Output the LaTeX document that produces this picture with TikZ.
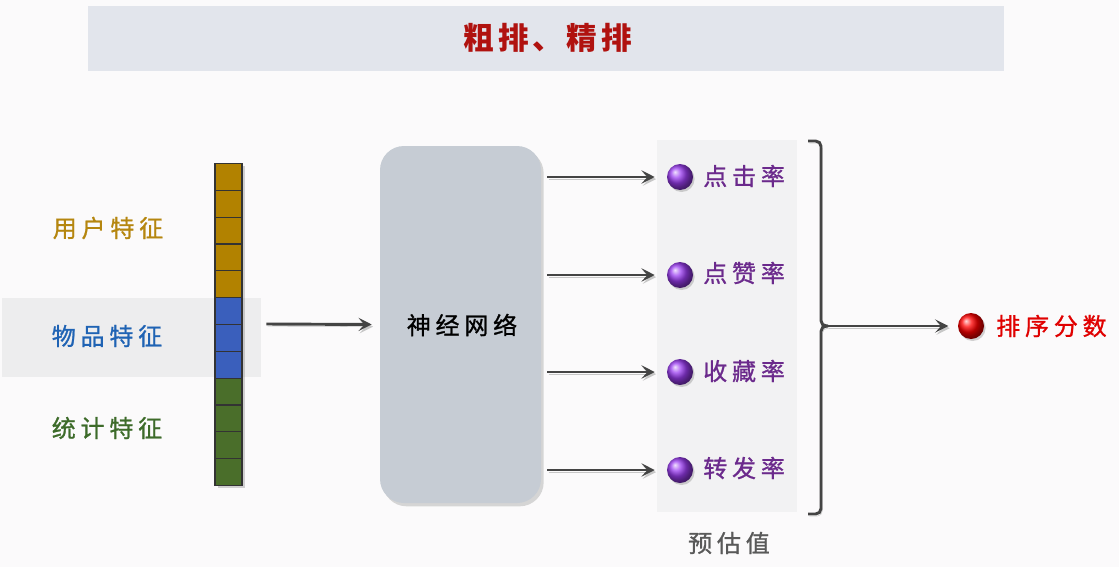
\documentclass[tikz,border=0pt]{standalone}
\usepackage{fontspec}
\newfontfamily\cjk[LetterSpace=20,FakeBold=1]{Noto Sans CJK SC}
\newfontfamily\cjkt[LetterSpace=12]{Noto Sans CJK SC}
\usetikzlibrary{shadows,arrows.meta}
\definecolor{bgc}{HTML}{FBFAFB}
\definecolor{titlebg}{HTML}{E2E5EC}
\definecolor{titlec}{HTML}{B0120F}
\definecolor{goldc}{HTML}{B28200}
\definecolor{goldt}{HTML}{B5860F}
\definecolor{bluec}{HTML}{3A5FBC}
\definecolor{bluet}{HTML}{1F63B4}
\definecolor{greenc}{HTML}{4A6E2A}
\definecolor{greent}{HTML}{3D6B2A}
\definecolor{nnc}{HTML}{C6CCD4}
\definecolor{purt}{HTML}{6B2A8C}
\definecolor{purb}{HTML}{9A3CF0}
\definecolor{redt}{HTML}{E00000}
\definecolor{panel}{HTML}{F2F2F3}
\definecolor{band}{HTML}{EDEDEE}
\definecolor{arrc}{HTML}{444444}
\tikzset{
  lbl/.style={font=\cjk\fontsize{18pt}{20pt}\selectfont, inner sep=0pt},
  cell/.style={draw=black!80, line width=0.8pt, minimum width=20.25pt, minimum height=20.1pt, inner sep=0pt, anchor=north},
  arr/.style={draw=arrc, line width=2.2pt, -{Stealth[length=10pt,width=10pt,inset=4.5pt]},
    preaction={draw=black!22, transform canvas={xshift=1pt,yshift=-1.6pt}}},
  ballp/.style={circle, minimum size=19.5pt, inner sep=0pt, ball color=purb, drop shadow={shadow xshift=1.2pt,shadow yshift=-1.5pt,opacity=0.35}},
  brk/.style={draw=arrc, line width=2.2pt, rounded corners=4pt,
    preaction={draw=black!22, transform canvas={xshift=1pt,yshift=-1.6pt}}},
}
\begin{document}
\begin{tikzpicture}[x=0.75pt,y=-0.75pt]
\useasboundingbox (0,0) rectangle (1119,567);
\fill[bgc] (0,0) rectangle (1119,567);
% title bar
\node[fill=titlebg, minimum width=687pt, minimum height=48.75pt, inner sep=0pt] (tbar) at (546,38.5) {};
\node[font=\cjkt\bfseries\fontsize{23pt}{25pt}\selectfont, text=titlec, inner sep=0pt] (title) at (548,38) {粗排、精排};
% highlight band and prediction panel
\fill[band] (2,298) rectangle (261,377);
\node[fill=panel, minimum width=105pt, minimum height=279pt, inner sep=0pt] (panel) at (727,326) {};
% feature vector
\node[minimum width=20.25pt, minimum height=241.5pt, inner sep=0pt, fill=black!80, drop shadow={shadow xshift=2pt,shadow yshift=-2pt,opacity=0.35}] (vec) at (228.5,324) {};
\foreach \i in {1,...,5} { \node[cell, fill=goldc] (c\i) at (228.5,{163+(\i-1)*26.83}) {}; }
\foreach \i in {6,...,8} { \node[cell, fill=bluec] (c\i) at (228.5,{163+(\i-1)*26.83}) {}; }
\foreach \i in {9,...,12} { \node[cell, fill=greenc] (c\i) at (228.5,{163+(\i-1)*26.83}) {}; }
% labels
\node[lbl, text=goldt] (l1) at (108,228) {用户特征};
\node[lbl, text=bluet] (l2) at (107,336) {物品特征};
\node[lbl, text=greent] (l3) at (107,428) {统计特征};
% neural network
\node[fill=nnc, rounded corners=18pt, minimum width=120.75pt, minimum height=267.75pt, inner sep=0pt, drop shadow={shadow xshift=2pt,shadow yshift=-2.5pt,opacity=0.3}] (nn) at (460.5,324.5) {};
\node[lbl, text=black] (nnt) at (462,325) {神经网络};
\draw[arr] ([xshift=18pt]vec.east) -- ([xshift=-6pt]nn.west);
% outputs
\node[ballp] (b1) at (680,177) {};
\node[ballp] (b2) at (680,275) {};
\node[ballp] (b3) at (680,372) {};
\node[ballp] (b4) at (680,470) {};
\node[lbl, text=purt, anchor=west] (o1) at (703,176) {点击率};
\node[lbl, text=purt, anchor=west] (o2) at (703,273) {点赞率};
\node[lbl, text=purt, anchor=west] (o3) at (703,371) {收藏率};
\node[lbl, text=purt, anchor=west] (o4) at (703,468) {转发率};
\foreach \i in {1,...,4} { \draw[arr] ([xshift=4.5pt]nn.east |- b\i) -- ([xshift=-9pt]b\i.west); }
% bracket
\coordinate (bt) at (808,141);
\coordinate (bb) at (808,514);
\coordinate (bm) at (828,326);
\draw[brk] (bt) -- (821,141) -- (821,326) -- (bm);
\draw[brk] (bb) -- (821,514) -- (821,326) -- (bm);
% final score
\node[circle, minimum size=19.5pt, inner sep=0pt, ball color=red, drop shadow={shadow xshift=1.2pt,shadow yshift=-1.5pt,opacity=0.35}] (rb) at (971,326) {};
\node[lbl, text=redt, anchor=west] (score) at (996,326) {排序分数};
\draw[arr] (bm) -- ([xshift=-7pt]rb.west);
\node[lbl, text=black!65] (est) at (729,543) {预估值};
\end{tikzpicture}
\end{document}
